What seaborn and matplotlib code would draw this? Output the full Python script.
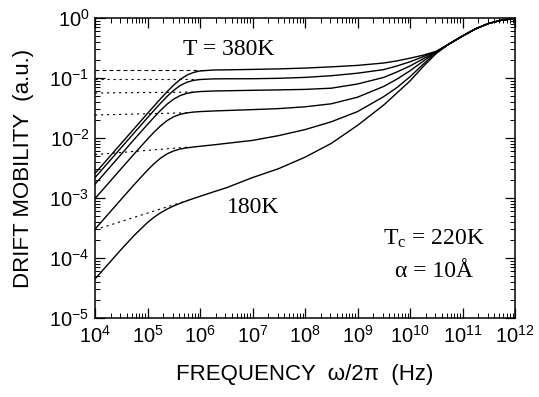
import numpy as np
import pandas as pd
import matplotlib
matplotlib.use("Agg")
import matplotlib.pyplot as plt
import seaborn as sns
from matplotlib.ticker import LogLocator, NullFormatter

# Frequency grid (log10 of Hz) shared by all temperature curves
log_freq = [4.0, 4.5, 4.75, 5.0, 5.125, 5.25, 5.375, 5.5, 5.625, 5.75, 5.875, 6.0,
            6.25, 6.5, 7.0, 7.5, 8.0, 8.5, 9.0, 9.5, 9.75, 10.0, 10.25, 10.5]

# Common high-frequency branch where every curve merges
tail_log_freq = [10.75, 11.0, 11.25, 11.5, 11.75, 12.0]
tail_log_mobility = [-0.43, -0.30, -0.18, -0.09, -0.035, -0.01]

# log10 drift mobility (a.u.) for each temperature
temperatures = ["380K", "340K", "300K", "260K", "220K", "180K"]
log_mob_380 = [-2.59, -2.09, -1.84, -1.591, -1.467, -1.345, -1.227, -1.117, -1.023, -0.952,
               -0.908, -0.883, -0.867, -0.864,
               -0.857, -0.848, -0.835, -0.814, -0.79, -0.75, -0.715, -0.67, -0.62, -0.555]
log_mob_340 = [-2.66, -2.16, -1.91, -1.662, -1.539, -1.419, -1.305, -1.205, -1.124, -1.071,
               -1.040, -1.025, -1.015, -1.013,
               -1.012, -1.005, -0.99, -0.962, -0.92, -0.86, -0.80, -0.73, -0.645, -0.56]
log_mob_300 = [-2.77, -2.27, -2.02, -1.774, -1.653, -1.538, -1.435, -1.351, -1.292, -1.256,
               -1.237, -1.226, -1.217, -1.213,
               -1.205, -1.198, -1.19, -1.17, -1.10, -0.99, -0.90, -0.80, -0.68, -0.565]
log_mob_260 = [-3.01, -2.51, -2.262, -2.018, -1.902, -1.797, -1.709, -1.645, -1.604, -1.582,
               -1.568, -1.56, -1.55, -1.542,
               -1.527, -1.51, -1.48, -1.43, -1.32, -1.14, -1.02, -0.88, -0.72, -0.57]
log_mob_220 = [-3.52, -3.021, -2.773, -2.536, -2.428, -2.335, -2.263, -2.215, -2.183, -2.164,
               -2.150, -2.138, -2.115, -2.09,
               -2.04, -1.96, -1.86, -1.73, -1.56, -1.31, -1.16, -0.98, -0.77, -0.58]
log_mob_180 = [-4.35, -3.856, -3.62, -3.409, -3.32, -3.246, -3.184, -3.132, -3.087, -3.047,
               -3.009, -2.972, -2.90, -2.83,
               -2.66, -2.51, -2.32, -2.09, -1.79, -1.45, -1.25, -1.05, -0.81, -0.59]

# Low-frequency (DC) asymptotes: start at 1e4 Hz, end where they meet the curve
asym_end_log_freq = [6.1, 6.0, 5.9, 5.75, 5.8, 5.8]
asym_start_log_mob = [-0.863, -1.013, -1.25, -1.617, -2.276, -3.53]
asym_end_log_mob = [-0.863, -1.013, -1.235, -1.58, -2.15, -3.03]

curves = [log_mob_380, log_mob_340, log_mob_300, log_mob_260, log_mob_220, log_mob_180]

rows = []
for temp, lm in zip(temperatures, curves):
    for lf, v in zip(log_freq + tail_log_freq, lm + tail_log_mobility):
        rows.append({"T": temp, "freq": 10.0 ** lf, "mobility": 10.0 ** v})
df = pd.DataFrame(rows)

asym_rows = []
for temp, fe, ms, me in zip(temperatures, asym_end_log_freq, asym_start_log_mob, asym_end_log_mob):
    asym_rows.append({"T": temp, "freq": 1e4, "mobility": 10.0 ** ms})
    asym_rows.append({"T": temp, "freq": 10.0 ** fe, "mobility": 10.0 ** me})
asym = pd.DataFrame(asym_rows)

sns.set_theme(style="ticks")
plt.rcParams["font.family"] = ["Liberation Sans", "DejaVu Sans"]
plt.rcParams["axes.unicode_minus"] = False
plt.rcParams["mathtext.fontset"] = "custom"
plt.rcParams["mathtext.rm"] = "Liberation Serif"
plt.rcParams["mathtext.it"] = "Liberation Serif:italic"

fig = plt.figure(figsize=(5.39, 3.97), dpi=100)
ax = fig.add_axes([95 / 539, 1 - 318 / 397, 420 / 539, 300 / 397])

sns.lineplot(data=df, x="freq", y="mobility", units="T", estimator=None,
             color="black", lw=1.0, ax=ax, sort=False)
for i, temp in enumerate(temperatures):
    seg = asym[asym["T"] == temp]
    style = (0, (3.5, 2.8)) if i == 0 else (0, (2.0, 3.4))
    sns.lineplot(data=seg, x="freq", y="mobility", color="black", lw=0.8,
                 linestyle=style, ax=ax, sort=False)

ax.set_xscale("log")
ax.set_yscale("log")
ax.set_xlim(1e4, 1e12)
ax.set_ylim(1e-5, 1)

ax.xaxis.set_major_locator(LogLocator(base=10, numticks=20))
ax.xaxis.set_minor_locator(LogLocator(base=10, subs=np.arange(2, 10), numticks=20))
ax.yaxis.set_major_locator(LogLocator(base=10, numticks=20))
ax.yaxis.set_minor_locator(LogLocator(base=10, subs=np.arange(2, 10), numticks=20))
ax.xaxis.set_minor_formatter(NullFormatter())
ax.yaxis.set_minor_formatter(NullFormatter())

ax.tick_params(which="both", direction="in", top=True, right=True, colors="black")
ax.tick_params(which="major", length=7, width=0.9, labelsize=14.5)
ax.tick_params(which="minor", length=3.5, width=0.7)
ax.tick_params(axis="x", which="major", pad=5)
ax.tick_params(axis="y", which="major", pad=4)
for s in ax.spines.values():
    s.set_linewidth(1.1)
    s.set_color("black")

ax.set_xlabel("FREQUENCY  \u03c9/2\u03c0  (Hz)", fontsize=16, labelpad=12, color="black")
ax.set_ylabel("DRIFT MOBILITY  (a.u.)", fontsize=16, labelpad=11, color="black")

serif = ["Liberation Serif", "DejaVu Serif"]
ax.text(0.318, 0.877, "T = 380K", transform=ax.transAxes, ha="center", va="baseline",
        fontsize=17, family=serif, color="black")
ax.text(0.377, 0.35, "180K", transform=ax.transAxes, ha="center", va="baseline",
        fontsize=17, family=serif, color="black")
ax.text(0.806, 0.243, r"$\mathrm{T_c}$ = 220K", transform=ax.transAxes, ha="center",
        va="baseline", fontsize=17, family=serif, color="black")
ax.text(0.806, 0.137, "\u03b1 = 10\u00c5", transform=ax.transAxes, ha="center",
        va="baseline", fontsize=17, family=serif, color="black")

fig.savefig("out.png", dpi=100)
